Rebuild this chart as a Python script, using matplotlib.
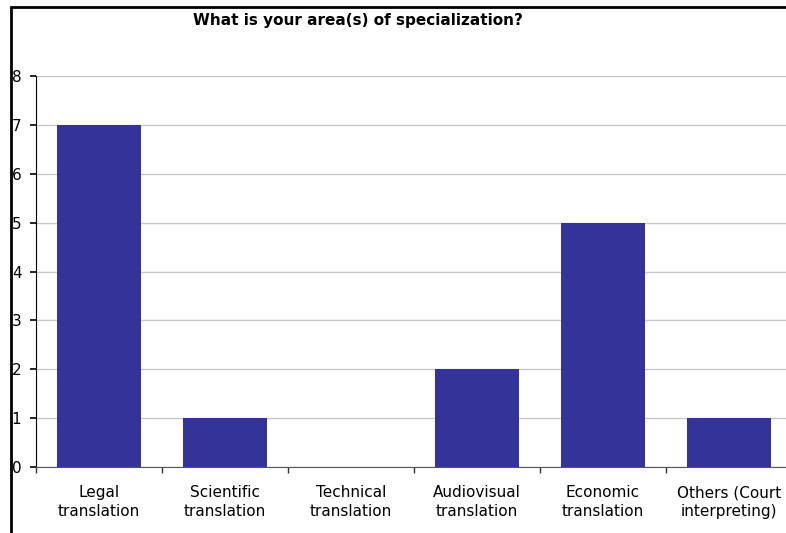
import matplotlib

matplotlib.use("Agg")
import matplotlib.pyplot as plt
import numpy as np
from matplotlib.patches import Rectangle

categories = ["Legal\ntranslation", "Scientific\ntranslation", "Technical\ntranslation",
              "Audiovisual\ntranslation", "Economic\ntranslation", "Others (Court\ninterpreting)"]
counts = [7, 1, 0, 2, 5, 1]
y_ticks = [0, 1, 2, 3, 4, 5, 6, 7, 8]

BAR = "#333399"
W, H = 786, 533

fig = plt.figure(figsize=(W / 100, H / 100), dpi=100)
# plot area in pixels: x 36..792 (runs past the right edge), y 76..467
ax = fig.add_axes([36 / W, (H - 467) / H, 756 / W, (467 - 76) / H])

x = np.arange(len(categories))
ax.bar(x, counts, width=0.667, color=BAR, zorder=3)
ax.set_xlim(-0.5, len(categories) - 0.5)
ax.set_ylim(0, 8)
ax.set_yticks(y_ticks)
ax.set_yticklabels([str(v) for v in y_ticks], fontsize=11)
ax.yaxis.grid(True, color="#c8c8c8", lw=1, zorder=0)

ax.set_xticks(x)
ax.set_xticklabels(categories, fontsize=11, linespacing=1.35)
ax.tick_params(axis="x", length=0, pad=13)
ax.set_xticks(np.arange(len(categories) + 1) - 0.5, minor=True)
ax.tick_params(axis="x", which="minor", length=4, color="#333333", width=1)
ax.tick_params(axis="y", length=4.5, width=1.2, pad=6, color="black")

for s in ("top", "right"):
    ax.spines[s].set_visible(False)
ax.spines["left"].set_color("black")
ax.spines["bottom"].set_color("#555555")

fig.text(358 / W, 1 - 20 / H, "What is your area(s) of specialization?",
         ha="center", va="center", fontsize=11, fontweight="bold")

# outer frame of the original chart object
fig.patches.append(Rectangle((10.5 / W, -0.1), 1.2, 1 - 7 / H + 0.1,
                             transform=fig.transFigure, fill=False,
                             edgecolor="black", lw=2))

fig.savefig("out.png", dpi=100)
